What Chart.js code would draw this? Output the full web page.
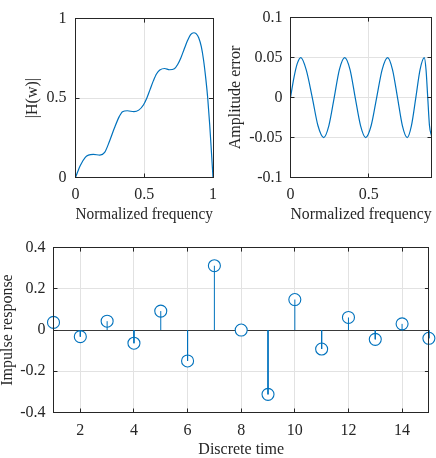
<!DOCTYPE html>
<html><head><meta charset="utf-8">
<script src="https://cdn.jsdelivr.net/npm/chart.js@4"></script>
<style>
html,body{margin:0;padding:0;background:#fff;overflow:hidden;width:436px;height:458px;position:relative;}
canvas{position:absolute;}
</style></head><body>
<canvas id="c1" style="left:0px;top:0px" width="225" height="230"></canvas>
<canvas id="c2" style="left:225px;top:0px" width="211" height="230"></canvas>
<canvas id="c3" style="left:-10px;top:230px" width="446" height="240"></canvas>
<script>
// ---- data ----
const hFreq = [0, 0.035, 0.071, 0.094, 0.13, 0.177, 0.212, 0.248, 0.283, 0.318, 0.342, 0.377, 0.425, 0.46, 0.495, 0.519, 0.542, 0.566, 0.59, 0.613, 0.648, 0.684, 0.719, 0.743, 0.766, 0.79, 0.814, 0.837, 0.861, 0.877, 0.896, 0.915, 0.931, 0.948, 0.962, 0.976, 0.988, 1.0];
const hMag  = [0, 0.076, 0.127, 0.141, 0.145, 0.141, 0.158, 0.23, 0.311, 0.383, 0.414, 0.42, 0.414, 0.424, 0.458, 0.5, 0.553, 0.608, 0.653, 0.676, 0.686, 0.678, 0.684, 0.711, 0.752, 0.807, 0.86, 0.899, 0.911, 0.905, 0.88, 0.823, 0.741, 0.619, 0.496, 0.332, 0.169, 0];

const errFreq = [0, 0.022, 0.044, 0.066, 0.1, 0.139, 0.175, 0.212, 0.245, 0.279, 0.312, 0.346, 0.38, 0.413, 0.447, 0.48, 0.515, 0.55, 0.585, 0.62, 0.651, 0.683, 0.714, 0.745, 0.772, 0.80, 0.827, 0.854, 0.865, 0.876, 0.887, 0.9];
const errVal  = [0, 0.025, 0.043, 0.05, 0.035, 0, -0.035, -0.05, -0.035, 0, 0.035, 0.05, 0.035, 0, -0.035, -0.05, -0.035, 0, 0.035, 0.05, 0.035, 0, -0.035, -0.05, -0.035, 0, 0.035, 0.05, 0.035, 0, -0.035, -0.048];

const timeIdx = [1, 2, 3, 4, 5, 6, 7, 8, 9, 10, 11, 12, 13, 14, 15];
const impulse = [0.037, -0.032, 0.043, -0.064, 0.092, -0.15, 0.312, 0, -0.312, 0.148, -0.092, 0.061, -0.045, 0.030, -0.040];

const hxTicks = [0, 0.5, 1], hyTicks = [0, 0.5, 1];
const exTicks = [0, 0.5], eyTicks = [-0.1, -0.05, 0, 0.05, 0.1];
const ixTicks = [2, 4, 6, 8, 10, 12, 14], iyTicks = [-0.4, -0.2, 0, 0.2, 0.4];

// ---- styling ----
const BLUE = '#0072BD', AXC = '#262626', GRID = '#e2e2e2';
const FONT = {family: '"Liberation Serif", "Times New Roman", serif', size: 16};
Chart.defaults.font = FONT;
Chart.defaults.color = AXC;

const al = p => Math.round(p - 0.5) + 0.5;
const frame = {
  id: 'frame',
  afterDraw(chart) {
    const {ctx, chartArea: a} = chart;
    const xs = chart.scales.x, ys = chart.scales.y;
    ctx.save();
    ctx.strokeStyle = AXC; ctx.lineWidth = 1;
    ctx.strokeRect(al(a.left), al(a.top), al(a.right) - al(a.left), al(a.bottom) - al(a.top));
    const L = 4;
    ctx.beginPath();
    xs.ticks.forEach(t => { const p = al(xs.getPixelForValue(t.value));
      ctx.moveTo(p, a.bottom); ctx.lineTo(p, a.bottom - L); ctx.moveTo(p, a.top); ctx.lineTo(p, a.top + L); });
    ys.ticks.forEach(t => { const p = al(ys.getPixelForValue(t.value));
      ctx.moveTo(a.left, p); ctx.lineTo(a.left + L, p); ctx.moveTo(a.right, p); ctx.lineTo(a.right - L, p); });
    ctx.stroke();
    ctx.restore();
  }
};

function axes(o) {
  return {
    x: {
      type: 'linear', min: o.xmin, max: o.xmax,
      afterBuildTicks: s => { s.ticks = o.xt.map(v => ({value: v})); },
      afterFit: s => { s.height = o.xh; },
      ticks: {padding: o.xpad, maxRotation: 0, autoSkip: false, callback: v => String(v), color: AXC, font: FONT},
      grid: {color: GRID, drawTicks: false, lineWidth: 1},
      border: {display: false},
      title: {display: true, text: o.xtitle, color: AXC, font: FONT, padding: {top: 0, bottom: o.xtp}}
    },
    y: {
      type: 'linear', min: o.ymin, max: o.ymax,
      afterBuildTicks: s => { s.ticks = o.yt.map(v => ({value: v})); },
      afterFit: s => { s.width = o.yw; },
      ticks: {padding: o.ypad, autoSkip: false, callback: v => String(v), color: AXC, font: FONT},
      grid: {color: o.gridColor || GRID, drawTicks: false, lineWidth: 1},
      border: {display: false},
      title: {display: true, text: o.ytitle, color: AXC, font: FONT, padding: {top: o.ytp, bottom: 0}}
    }
  };
}

const common = {
  responsive: false, animation: false, devicePixelRatio: 1,
  plugins: {legend: {display: false}, tooltip: {enabled: false}},
  elements: {point: {radius: 0}}
};

// Chart 1: |H(w)|
new Chart(document.getElementById('c1'), {
  type: 'scatter',
  data: {datasets: [{
    data: hFreq.map((x, i) => ({x, y: hMag[i]})),
    showLine: true, borderColor: BLUE, borderWidth: 1.2, pointRadius: 0,
    cubicInterpolationMode: 'monotone', fill: false
  }]},
  options: Object.assign({}, common, {
    layout: {padding: {left: 0, top: 14.5, right: 8.5, bottom: 0}},
    scales: axes({xmin: 0, xmax: 1, ymin: 0, ymax: 1, xt: hxTicks, yt: hyTicks,
      xh: 52.5, yw: 75.5, xpad: 8, ypad: 9, xtitle: 'Normalized frequency', ytitle: '|H(w)|', xtp: 5.4, ytp: 23.4})
  }),
  plugins: [frame]
});

// Chart 2: amplitude error
new Chart(document.getElementById('c2'), {
  type: 'scatter',
  data: {datasets: [{
    data: errFreq.map((x, i) => ({x, y: errVal[i]})),
    showLine: true, borderColor: BLUE, borderWidth: 1.2, pointRadius: 0,
    cubicInterpolationMode: 'monotone', fill: false
  }]},
  options: Object.assign({}, common, {
    layout: {padding: {left: 0, top: 14.5, right: 4.5, bottom: 0}},
    scales: axes({xmin: 0, xmax: 0.9, ymin: -0.1, ymax: 0.1, xt: exTicks, yt: eyTicks,
      xh: 52.5, yw: 65.5, xpad: 8, ypad: 8, xtitle: 'Normalized frequency', ytitle: 'Amplitude error', xtp: 5.4, ytp: 1.4})
  }),
  plugins: [frame]
});

// Chart 3: impulse response (stem)
const stemPts = [];
timeIdx.forEach((n, i) => { stemPts.push({x: n, y: 0}, {x: n, y: impulse[i]}, {x: n, y: null}); });
new Chart(document.getElementById('c3'), {
  type: 'scatter',
  data: {datasets: [
    {data: stemPts, showLine: true, spanGaps: false, borderColor: BLUE, borderWidth: 1, pointRadius: 0, tension: 0},
    {data: timeIdx.map((n, i) => ({x: n, y: impulse[i]})), showLine: false,
     pointRadius: 6, pointStyle: 'circle', borderColor: BLUE, backgroundColor: '#ffffff', pointBorderWidth: 1.1, borderWidth: 1.1}
  ]},
  options: Object.assign({}, common, {
    layout: {padding: {left: 0, top: 15.5, right: 4.5, bottom: 0}},
    clip: false,
    scales: axes({xmin: 1, xmax: 15, ymin: -0.4, ymax: 0.4, xt: ixTicks, yt: iyTicks,
      xh: 57.5, yw: 63.5, xpad: 9, ypad: 8, xtitle: 'Discrete time', ytitle: 'Impulse response', xtp: 10.4, ytp: 8.4,
      gridColor: c => (c.tick && c.tick.value === 0) ? '#3a3a3a' : GRID})
  }),
  plugins: [frame]
});
</script>
</body></html>
